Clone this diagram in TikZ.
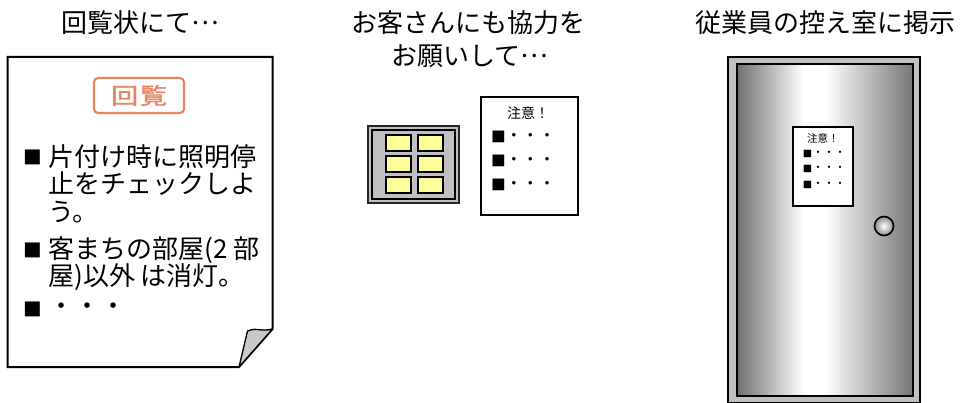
\documentclass[tikz,border=0pt]{standalone}
\usepackage{fontspec}
\setmainfont{Noto Sans CJK JP}
\newfontfamily\stampfont[FakeBold=1.5]{Noto Sans CJK JP}
\definecolor{stamporange}{RGB}{233,133,96}
\definecolor{panelgray}{RGB}{192,192,192}
\definecolor{keyyellow}{RGB}{255,255,153}
\definecolor{flapgray}{RGB}{200,200,200}
\definecolor{doordark}{RGB}{112,112,112}
\definecolor{doordarkr}{RGB}{118,118,118}
\pgfdeclarehorizontalshading{doorsheen}{100bp}{color(0bp)=(doordark); color(25bp)=(doordark); color(44bp)=(white); color(50bp)=(white); color(75bp)=(doordarkr); color(100bp)=(doordarkr)}
% ellipsis lifted to the middle of the line, without changing the line's height
\newcommand{\midellipsis}{\raisebox{0.32em}[0pt][0pt]{…}}
\begin{document}
\begin{tikzpicture}[x=0.75pt,y=-0.75pt,
  title/.style={font=\fontsize{19.5pt}{24pt}\selectfont, inner sep=0pt},
  body/.style={font=\fontsize{19.5pt}{24pt}\selectfont, anchor=west, inner sep=0pt},
  bigbullet/.style={font=\fontsize{14pt}{16pt}\selectfont, inner sep=0pt},
  outline/.style={line width=1.5pt, line join=miter},
  key/.style={draw=black, line width=1.2pt, fill=keyyellow},
  notehead/.style={inner sep=0pt},
]
\useasboundingbox (0,0) rectangle (963,403);

% ---- headings ----
\node[title] (t1) at (140,23) {回覧状にて\midellipsis};
\node[title] (t2a) at (468,23) {お客さんにも協力を};
\node[title] (t2b) at (470,56) {お願いして\midellipsis};
\node[title] (t3) at (825,23) {従業員の控え室に掲示};

% ---- circular letter with curled corner ----
\draw[outline, fill=white] (7.5,57) -- (272.5,57) -- (272.5,329) -- (239,367) -- (7.5,367) -- cycle;
\draw[line width=1pt, fill=flapgray, line join=round]
  (272.5,329) .. controls (262,332) and (254,327) .. (247.5,331) -- (239,367) -- cycle;

\node[draw=stamporange, line width=1.6pt, rounded corners=3pt,
      minimum width=67.5pt, minimum height=26.25pt, inner sep=0pt,
      text=stamporange, font=\stampfont\fontsize{17pt}{18pt}\selectfont]
  (stamp) at (139,95.5) {\scalebox{1.2}[1]{回\hspace{1pt}覧}};

\node[bigbullet] (b1) at (33,157) {■};
\node[body] (l1) at (48,157) {片付け時に照明停};
\node[body] (l2) at (48,184) {止をチェックしよ};
\node[body] (l3) at (48,212) {う。};
\node[bigbullet] (b2) at (33,250) {■};
\node[body] (l4) at (48,250) {客まちの部屋(2 部};
\node[body] (l5) at (48,277) {屋)以外 は消灯。};
\node[bigbullet] (b3) at (33,309) {■};
\node[body] (l6) at (48,309) {・・・};

% ---- guest room switch panel ----
\draw[line width=2pt, draw=black!85, fill=panelgray] (368,126) rectangle (459,203);
\draw[line width=0.8pt] (372,130) rectangle (455,199);
\foreach \kx in {386,418}
  \foreach \ky in {135,156,177}
    \draw[key] (\kx,\ky) rectangle ++(25,16);

% ---- notice card for guests ----
\draw[line width=1.2pt, fill=white] (481,97) rectangle (578,215);
\node[notehead, font=\fontsize{10.5pt}{12pt}\selectfont] (n1) at (528,113) {注意！};
\foreach \ry [count=\i] in {137,161,185}{
  \node[inner sep=0pt, font=\fontsize{11pt}{12pt}\selectfont] (nb\i) at (498.5,\ry) {■};
  \node[inner sep=0pt, font=\fontsize{12.4pt}{13pt}\selectfont] (nd\i) at (530.5,\ry) {・・・};
}

% ---- staff room door ----
\draw[line width=0.8pt, fill=panelgray] (728,57) rectangle (920,402.5);
\shade[shading=doorsheen] (737,64) rectangle (913,396);
\draw[line width=1.6pt] (737,64) rectangle (913,396);

\draw[line width=1pt, fill=white] (793,127) rectangle (853,206);
\node[notehead, font=\fontsize{7.9pt}{9pt}\selectfont] (n2) at (823,138) {注意！};
\foreach \ry [count=\i] in {154,169,185}{
  \node[inner sep=0pt, font=\fontsize{7pt}{8pt}\selectfont] (db\i) at (807.5,\ry) {■};
  \node[inner sep=0pt, font=\fontsize{8.25pt}{9pt}\selectfont] (dd\i) at (829,\ry) {・・・};
}

\shade[inner color=white, outer color=black!45] (884,226) circle[radius=9.5];
\draw[line width=1.2pt] (884,226) circle[radius=9.5];
\end{tikzpicture}
\end{document}
